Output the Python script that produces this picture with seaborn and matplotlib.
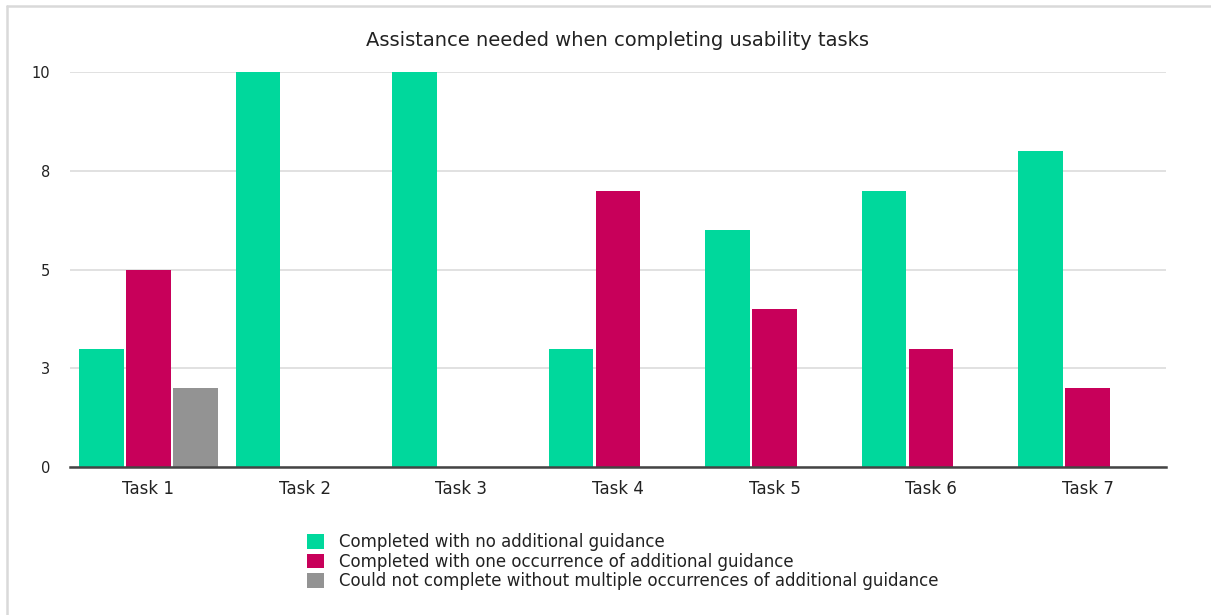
import matplotlib
matplotlib.use("Agg")
import matplotlib.pyplot as plt
import seaborn as sns
import pandas as pd
from matplotlib.lines import Line2D

# Chart data
tasks = ["Task 1", "Task 2", "Task 3", "Task 4", "Task 5", "Task 6", "Task 7"]
outcomes = [
    "Completed with no additional guidance",
    "Completed with one occurrence of additional guidance",
    "Could not complete without multiple occurrences of additional guidance",
]
no_guidance = [3, 10, 10, 3, 6, 7, 8]
one_guidance = [5, 0, 0, 7, 4, 3, 2]
could_not_complete = [2, 0, 0, 0, 0, 0, 0]
y_ticks = [0, 2.5, 5, 7.5, 10]
y_tick_labels = ["0", "3", "5", "8", "10"]
title = "Assistance needed when completing usability tasks"

colors = ["#00d89c", "#c8005a", "#939393"]

rows = []
for series, vals in zip(outcomes, [no_guidance, one_guidance, could_not_complete]):
    for t, v in zip(tasks, vals):
        rows.append({"task": t, "outcome": series, "count": v})
df = pd.DataFrame(rows)

sns.set_theme(style="white")
plt.rcParams["font.family"] = ["DejaVu Sans"]

W, H = 1211, 615
fig = plt.figure(figsize=(W / 100, H / 100), dpi=100)
ax = fig.add_axes([70 / W, 1 - 467 / H, (1166 - 70) / W, (467 - 72) / H])

sns.barplot(
    data=df, x="task", y="count", hue="outcome", order=tasks, hue_order=outcomes,
    palette=colors, saturation=1, width=0.9, gap=0.05, linewidth=0, ax=ax,
    errorbar=None,
)

ax.set_ylim(0, 10)
ax.set_xlim(-0.5, len(tasks) - 0.5)
ax.set_yticks(y_ticks)
ax.set_yticklabels(y_tick_labels)
ax.set_xlabel("")
ax.set_ylabel("")
ax.set_axisbelow(True)
ax.yaxis.grid(True, color="#dedede", linewidth=1.3)
ax.xaxis.grid(False)
for s in ["top", "right", "left"]:
    ax.spines[s].set_visible(False)
ax.spines["bottom"].set_color("#444444")
ax.spines["bottom"].set_linewidth(1.8)
ax.tick_params(axis="y", length=0, pad=14, labelsize=10.5, labelcolor="#222222")
ax.tick_params(axis="x", length=0, pad=9, labelsize=12, labelcolor="#222222")

handles, labels = ax.get_legend_handles_labels()
ax.get_legend().remove()
fig.legend(
    handles, labels, loc="upper left", bbox_to_anchor=(307 / W, 1 - 533 / H),
    frameon=False, fontsize=12, handlelength=1.0, handleheight=1.0,
    handletextpad=0.9, labelspacing=0.1, borderpad=0, borderaxespad=0,
    labelcolor="#222222",
)

fig.text(617 / W, 1 - 40 / H, title, ha="center", va="center",
         fontsize=14, color="#222222")

# Outer frame of the chart card
fig.add_artist(Line2D([7 / W, 1.0], [1 - 6 / H, 1 - 6 / H], color="#d9d9d9",
                      linewidth=1.8, transform=fig.transFigure))
fig.add_artist(Line2D([7 / W, 7 / W], [0, 1 - 6 / H], color="#d9d9d9",
                      linewidth=1.8, transform=fig.transFigure))

fig.savefig("out.png", dpi=100, facecolor="white")
